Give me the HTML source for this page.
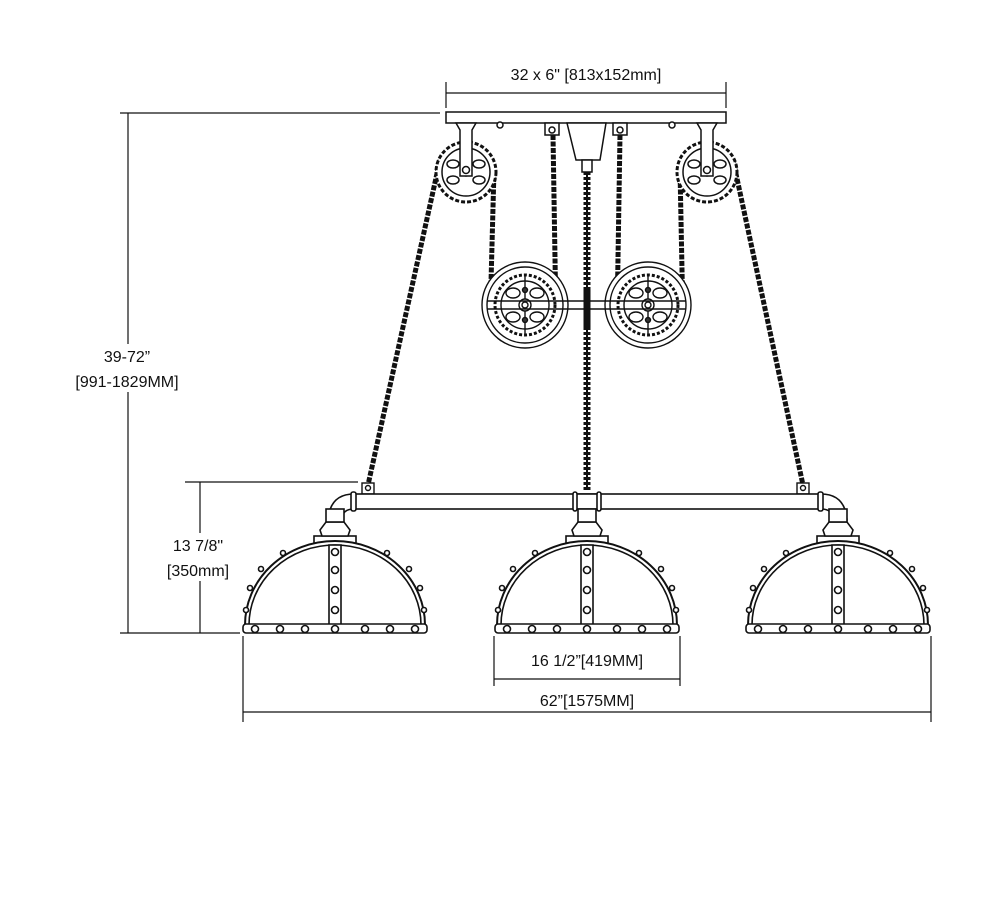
<!DOCTYPE html>
<html><head><style>
html,body{margin:0;padding:0;background:#fff;}
svg{display:block;}
text{font-family:"Liberation Sans",sans-serif;font-size:16px;fill:#111;}
</style></head><body>
<svg width="1000" height="904" viewBox="0 0 1000 904" xmlns="http://www.w3.org/2000/svg">
<defs>
<g id="shade" fill="#fff" stroke="#111" stroke-width="1.6">
  <rect x="-21" y="536" width="42" height="9"/>
  <path d="M-13 536 L-15 530 L-9 522 L9 522 L15 530 L13 536Z"/>
  <rect x="-9" y="509" width="18" height="13"/>
  <path d="M-90 625 A90 84 0 0 1 90 625 Z" stroke-width="2"/>
  <path d="M-86 625 A86 80 0 0 1 86 625" fill="none"/>
  <rect x="-6" y="545" width="12" height="80"/>
  <circle cx="0" cy="552" r="3.5"/><circle cx="0" cy="570" r="3.5"/><circle cx="0" cy="590" r="3.5"/><circle cx="0" cy="610" r="3.5"/>
  <circle cx="-52" cy="553" r="2.5"/><circle cx="-74" cy="569" r="2.5"/><circle cx="-85" cy="588" r="2.5"/><circle cx="-89" cy="610" r="2.5"/>
  <circle cx="52" cy="553" r="2.5"/><circle cx="74" cy="569" r="2.5"/><circle cx="85" cy="588" r="2.5"/><circle cx="89" cy="610" r="2.5"/>
  <rect x="-92" y="624" width="184" height="9" rx="3"/>
  <circle cx="-80" cy="629" r="3.5"/><circle cx="-55" cy="629" r="3.5"/><circle cx="-30" cy="629" r="3.5"/><circle cx="0" cy="629" r="3.5"/><circle cx="30" cy="629" r="3.5"/><circle cx="55" cy="629" r="3.5"/><circle cx="80" cy="629" r="3.5"/>
</g>
<g id="sprocket" fill="#fff" stroke="#111" stroke-width="1.5">
  <circle r="30" stroke-dasharray="4 2" stroke-width="3"/>
  <circle r="24"/>
  <ellipse cx="-13" cy="-8" rx="6" ry="4"/><ellipse cx="13" cy="-8" rx="6" ry="4"/>
  <ellipse cx="-13" cy="8" rx="6" ry="4"/><ellipse cx="13" cy="8" rx="6" ry="4"/>
  <circle r="4"/>
</g>
<g id="wheel" fill="none" stroke="#111" stroke-width="1.4">
  <circle r="43" fill="#fff"/>
  <circle r="38"/>
  <circle r="30" stroke-dasharray="3 2" stroke-width="3"/>
  <circle r="24"/>
  <ellipse cx="-12" cy="-12" rx="7" ry="5"/><ellipse cx="12" cy="-12" rx="7" ry="5"/>
  <ellipse cx="-12" cy="12" rx="7" ry="5"/><ellipse cx="12" cy="12" rx="7" ry="5"/>
  <line x1="0" y1="-30" x2="0" y2="30"/>
  <circle r="6" fill="#fff"/><circle r="3"/>
  <circle cy="-15" r="2.5" fill="#333"/><circle cy="15" r="2.5" fill="#333"/>
</g>
</defs>

<g stroke="#111" stroke-width="1.2" fill="none">
  <line x1="446" y1="93" x2="726" y2="93"/>
  <line x1="446" y1="82" x2="446" y2="108"/><line x1="726" y1="82" x2="726" y2="108"/>
  <line x1="120" y1="113" x2="440" y2="113"/>
  <line x1="128" y1="113" x2="128" y2="633"/>
  <line x1="120" y1="633" x2="240" y2="633"/>
  <line x1="185" y1="482" x2="358" y2="482"/>
  <line x1="200" y1="482" x2="200" y2="633"/>
  <line x1="243" y1="636" x2="243" y2="722"/><line x1="931" y1="636" x2="931" y2="722"/>
  <line x1="243" y1="712" x2="931" y2="712"/>
  <line x1="494" y1="636" x2="494" y2="686"/><line x1="680" y1="636" x2="680" y2="686"/>
  <line x1="494" y1="679" x2="680" y2="679"/>
</g>
<rect x="60" y="344" width="134" height="48" fill="#fff"/>
<rect x="155" y="533" width="88" height="48" fill="#fff"/>
<text x="586" y="80" text-anchor="middle">32 x 6" [813x152mm]</text>
<text x="127" y="362" text-anchor="middle">39-72”</text>
<text x="127" y="387" text-anchor="middle">[991-1829MM]</text>
<text x="198" y="551" text-anchor="middle">13 7/8"</text>
<text x="198" y="576" text-anchor="middle">[350mm]</text>
<text x="587" y="666" text-anchor="middle">16 1/2”[419MM]</text>
<text x="587" y="706" text-anchor="middle">62”[1575MM]</text>

<g stroke="#111" stroke-width="1.5" fill="#fff">
  <rect x="446" y="112" width="280" height="11"/>
  <path d="M567 123 L606 123 L600 160 L576 160Z"/>
  <rect x="545" y="123" width="14" height="12"/><circle cx="552" cy="130" r="3"/>
  <rect x="613" y="123" width="14" height="12"/><circle cx="620" cy="130" r="3"/>
  <circle cx="500" cy="125" r="3"/><circle cx="672" cy="125" r="3"/>
  <rect x="582" y="160" width="10" height="12"/>
</g>
<line x1="587" y1="172" x2="587" y2="490" stroke="#111" stroke-width="7" stroke-dasharray="3 2"/>
<line x1="587" y1="172" x2="587" y2="490" stroke="#111" stroke-width="2"/>

<g stroke="#111" stroke-width="5" fill="none" stroke-dasharray="5 1.5">
  <path d="M440 160 L368 485"/>
  <path d="M733 160 L803 485"/>
  <path d="M494 170 L490 320 Q495 345 525 345 Q555 345 556 320 L553 135"/>
  <path d="M680 170 L683 320 Q678 345 648 345 Q618 345 617 320 L620 135"/>
</g>

<use href="#sprocket" x="466" y="172"/>
<use href="#sprocket" x="707" y="172"/>
<g stroke="#111" stroke-width="1.5" fill="#fff">
  <path d="M456 123 L476 123 L472 130 L472 176 L460 176 L460 130Z"/>
  <circle cx="466" cy="170" r="3.5"/>
  <path d="M697 123 L717 123 L713 130 L713 176 L701 176 L701 130Z"/>
  <circle cx="707" cy="170" r="3.5"/>
</g>
<use href="#wheel" x="525" y="305"/>
<use href="#wheel" x="648" y="305"/>
<g stroke="#111" stroke-width="1.4" fill="none">
  <path d="M487 301 L686 301 M487 309 L686 309"/>
</g>
<line x1="587" y1="290" x2="587" y2="330" stroke="#111" stroke-width="7" stroke-dasharray="3 2"/>

<g stroke="#111" stroke-width="1.4" fill="#fff">
  <rect x="362" y="483" width="12" height="11"/><circle cx="368" cy="488" r="2.5"/>
  <rect x="797" y="483" width="12" height="11"/><circle cx="803" cy="488" r="2.5"/>
</g>

<g stroke="#111" stroke-width="1.6" fill="#fff">
  <rect x="354" y="494" width="468" height="15"/>
  <path d="M354 494 Q330 494 328 520 L342 520 Q342 509 354 509Z"/>
  <path d="M821 494 Q845 494 847 520 L833 520 Q833 509 821 509Z"/>
  <rect x="351" y="492" width="5" height="19" rx="2"/>
  <rect x="818" y="492" width="5" height="19" rx="2"/>
  <rect x="575" y="494" width="24" height="15"/>
  <rect x="573" y="492" width="4" height="19" rx="2"/><rect x="597" y="492" width="4" height="19" rx="2"/>
</g>

<use href="#shade" x="335" y="0"/>
<use href="#shade" x="587" y="0"/>
<use href="#shade" x="838" y="0"/>
</svg>
</body></html>
